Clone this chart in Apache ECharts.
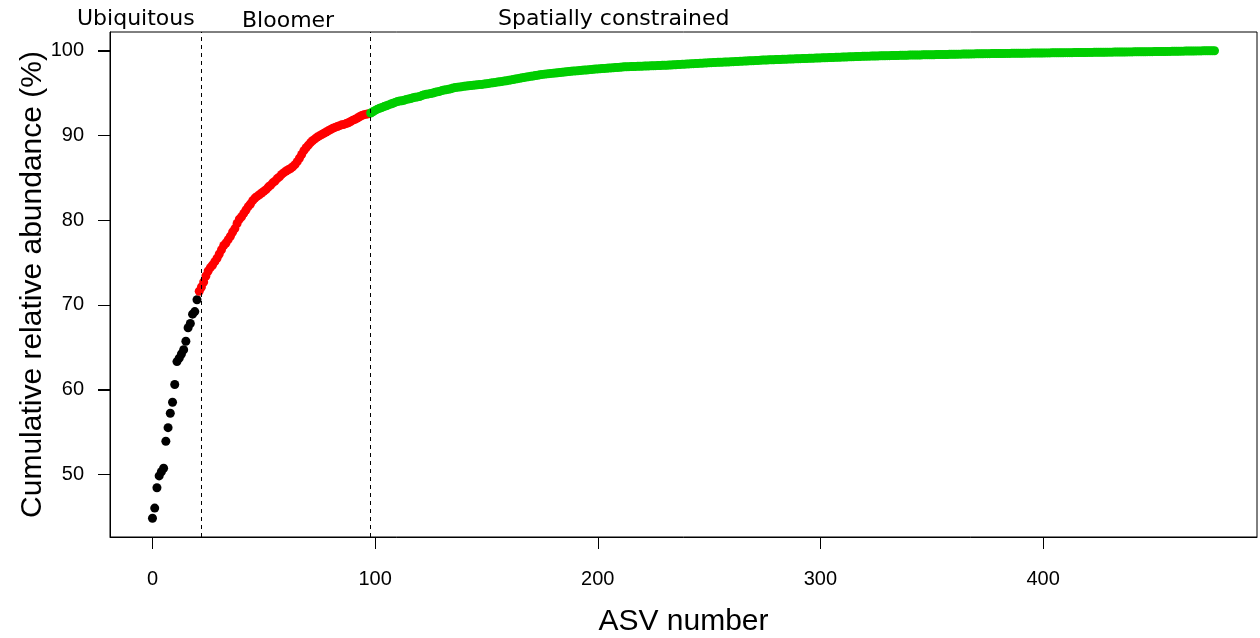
<!DOCTYPE html>
<html>
<head>
<meta charset="utf-8">
<script src="https://cdn.jsdelivr.net/npm/echarts@6/dist/echarts.min.js"></script>
<style>
  html, body { margin: 0; padding: 0; background: #fff; }
  #chart { width: 1260px; height: 638px; }
</style>
</head>
<body>
<div id="chart"></div>
<script>
// cumulative relative abundance (%) per ASV rank, split by group
var ubiquitousStart = 0;
var ubiquitous = [44.8, 46.0, 48.4, 49.8, 50.3, 50.7, 53.9, 55.5, 57.2, 58.5,
  60.6, 63.3, 63.7, 64.2, 64.7, 65.7, 67.3, 67.8, 68.9, 69.2, 70.6];

var bloomerStart = 21;
var bloomer = [71.6, 72.1, 72.7, 73.4, 74.0, 74.4, 74.7, 75.1, 75.5, 76.0,
  76.5, 77.0, 77.3, 77.7, 78.1, 78.6, 79.0, 79.6, 80.1, 80.4,
  80.8, 81.2, 81.6, 81.9, 82.3, 82.6, 82.8, 83.0, 83.2, 83.4,
  83.6, 83.9, 84.1, 84.4, 84.6, 84.9, 85.1, 85.4, 85.6, 85.8,
  85.95, 86.1, 86.3, 86.55, 86.9, 87.3, 87.75, 88.2, 88.55, 88.85,
  89.15, 89.4, 89.6, 89.8, 89.95, 90.1, 90.25, 90.4, 90.55, 90.7,
  90.85, 90.95, 91.05, 91.15, 91.25, 91.3, 91.4, 91.5, 91.65, 91.8,
  91.9, 92.05, 92.2, 92.35, 92.45, 92.5, 92.55];

var constrainedStart = 98;
var constrained = [92.65, 92.8, 92.95, 93.1, 93.2, 93.3, 93.4, 93.5, 93.6, 93.7,
  93.8, 93.9, 94.0, 94.05, 94.1, 94.15, 94.25, 94.3, 94.35, 94.45,
  94.5, 94.55, 94.6, 94.7, 94.8, 94.85, 94.9, 94.95, 95.0, 95.1,
  95.15, 95.2, 95.3, 95.35, 95.4, 95.45, 95.5, 95.6, 95.65, 95.7,
  95.72, 95.76, 95.8, 95.83, 95.86, 95.89, 95.92, 95.95, 95.97, 96.0,
  96.02, 96.06, 96.1, 96.14, 96.18, 96.22, 96.26, 96.3, 96.34, 96.38,
  96.42, 96.46, 96.5, 96.55, 96.6, 96.65, 96.7, 96.75, 96.8, 96.85,
  96.9, 96.94, 96.98, 97.02, 97.06, 97.1, 97.15, 97.2, 97.23, 97.26,
  97.29, 97.32, 97.35, 97.37, 97.4, 97.43, 97.46, 97.49, 97.52, 97.54,
  97.57, 97.6, 97.62, 97.64, 97.66, 97.69, 97.71, 97.73, 97.76, 97.78,
  97.8, 97.83, 97.85, 97.87, 97.89, 97.91, 97.93, 97.95, 97.97, 97.99,
  98.01, 98.03, 98.05, 98.07, 98.1, 98.11, 98.12, 98.13, 98.14, 98.15,
  98.16, 98.17, 98.18, 98.19, 98.2, 98.21, 98.22, 98.23, 98.24, 98.25,
  98.26, 98.27, 98.28, 98.29, 98.3, 98.31, 98.33, 98.35, 98.37, 98.38,
  98.4, 98.41, 98.43, 98.44, 98.46, 98.47, 98.48, 98.5, 98.51, 98.53,
  98.54, 98.56, 98.57, 98.59, 98.6, 98.62, 98.63, 98.64, 98.65, 98.66,
  98.67, 98.68, 98.7, 98.71, 98.73, 98.74, 98.75, 98.77, 98.78, 98.79,
  98.81, 98.82, 98.83, 98.85, 98.86, 98.87, 98.89, 98.9, 98.91, 98.92,
  98.93, 98.94, 98.95, 98.96, 98.97, 98.98, 98.99, 99.0, 99.01, 99.02,
  99.03, 99.04, 99.05, 99.06, 99.07, 99.08, 99.09, 99.1, 99.11, 99.12,
  99.13, 99.14, 99.15, 99.16, 99.17, 99.18, 99.19, 99.2, 99.21, 99.22,
  99.23, 99.24, 99.25, 99.26, 99.27, 99.28, 99.29, 99.3, 99.31, 99.32,
  99.33, 99.34, 99.35, 99.36, 99.36, 99.37, 99.38, 99.38, 99.39, 99.4,
  99.4, 99.41, 99.42, 99.42, 99.43, 99.44, 99.44, 99.45, 99.46, 99.46,
  99.47, 99.47, 99.48, 99.48, 99.49, 99.49, 99.5, 99.5, 99.51, 99.51,
  99.52, 99.52, 99.53, 99.53, 99.54, 99.54, 99.55, 99.55, 99.56, 99.56,
  99.57, 99.57, 99.58, 99.58, 99.59, 99.59, 99.6, 99.6, 99.61, 99.61,
  99.62, 99.62, 99.63, 99.63, 99.64, 99.64, 99.65, 99.65, 99.65, 99.66,
  99.66, 99.66, 99.67, 99.67, 99.67, 99.68, 99.68, 99.68, 99.69, 99.69,
  99.69, 99.7, 99.7, 99.7, 99.71, 99.71, 99.71, 99.72, 99.72, 99.72,
  99.73, 99.73, 99.73, 99.74, 99.74, 99.74, 99.75, 99.75, 99.75, 99.76,
  99.76, 99.76, 99.77, 99.77, 99.77, 99.77, 99.78, 99.78, 99.78, 99.79,
  99.79, 99.79, 99.8, 99.8, 99.8, 99.81, 99.81, 99.81, 99.82, 99.82,
  99.82, 99.83, 99.83, 99.83, 99.84, 99.84, 99.84, 99.85, 99.85, 99.85,
  99.86, 99.86, 99.86, 99.87, 99.87, 99.87, 99.88, 99.88, 99.88, 99.89,
  99.89, 99.89, 99.9, 99.9, 99.9, 99.91, 99.91, 99.91, 99.92, 99.92,
  99.93, 99.93, 99.94, 99.94, 99.95, 99.95, 99.96, 99.96, 99.97, 99.97,
  99.97, 99.98, 99.98, 99.98, 99.99, 99.99, 99.99, 100, 100, 100];

// group boundaries (dashed lines) and tick labels
var boundaries = [21.7, 97.6];
var xTicks = [0, 100, 200, 300, 400];
var yTicks = [50, 60, 70, 80, 90, 100];

var xMin = -19.08, xMax = 496.08;
var yMin = 42.59, yMax = 102.21;

function toPoints(start, values) {
  return values.map(function (v, i) { return [start + i, v]; });
}

var myChart = echarts.init(document.getElementById('chart'));

var tickFont = "'Liberation Sans', Arial, sans-serif";
var dotSize = 9;
var tickLen = 12;

var titles = [
  { type: 'text', id: 't1', left: 77, top: 8, style: { text: 'Ubiquitous', font: '22px "DejaVu Sans"', fill: '#000' } },
  { type: 'text', id: 't2', left: 242, top: 10, style: { text: 'Bloomer', font: '22px "DejaVu Sans"', fill: '#000' } },
  { type: 'text', id: 't3', left: 498, top: 8, style: { text: 'Spatially constrained', font: '22px "DejaVu Sans"', fill: '#000' } }
];

var option = {
  animation: false,
  grid: {
    left: 110,
    right: 3,
    top: 32,
    bottom: 101,
    outerBoundsMode: 'none',
    show: true,
    borderColor: '#000',
    borderWidth: 1
  },
  xAxis: {
    type: 'value',
    min: xMin,
    max: xMax,
    name: 'ASV number',
    nameLocation: 'middle',
    nameGap: 70,
    nameMoveOverlap: false,
    nameTextStyle: { fontFamily: tickFont, fontSize: 30, color: '#000' },
    axisLine: { show: true, onZero: false, lineStyle: { color: '#000', width: 1 } },
    axisTick: { show: true, inside: false, length: tickLen, customValues: xTicks, lineStyle: { color: '#000', width: 1 } },
    axisLabel: { customValues: xTicks, margin: 32, fontFamily: tickFont, fontSize: 20, color: '#000' },
    splitLine: { show: false }
  },
  yAxis: {
    type: 'value',
    min: yMin,
    max: yMax,
    name: 'Cumulative relative abundance (%)',
    nameLocation: 'middle',
    nameGap: 62,
    nameMoveOverlap: false,
    nameTextStyle: { fontFamily: tickFont, fontSize: 30, color: '#000' },
    axisLine: { show: true, onZero: false, lineStyle: { color: '#000', width: 1 } },
    axisTick: { show: true, inside: false, length: tickLen, customValues: yTicks, lineStyle: { color: '#000', width: 1 } },
    axisLabel: { customValues: yTicks, margin: 26, fontFamily: tickFont, fontSize: 20, color: '#000' },
    splitLine: { show: false }
  },
  graphic: { elements: titles },
  series: [
    {
      type: 'scatter',
      data: [],
      z: 1,
      markLine: {
        silent: true,
        symbol: ['none', 'none'],
        label: { show: false },
        lineStyle: { color: '#000', width: 1, type: [4, 4] },
        data: boundaries.map(function (b) { return { xAxis: b }; })
      }
    },
    {
      name: 'Ubiquitous',
      type: 'scatter',
      z: 3,
      symbolSize: dotSize,
      itemStyle: { color: '#000000', opacity: 1 },
      data: toPoints(ubiquitousStart, ubiquitous)
    },
    {
      name: 'Bloomer',
      type: 'scatter',
      z: 3,
      symbolSize: dotSize,
      itemStyle: { color: '#ff0000', opacity: 1 },
      data: toPoints(bloomerStart, bloomer)
    },
    {
      name: 'Spatially constrained',
      type: 'scatter',
      z: 3,
      symbolSize: dotSize,
      itemStyle: { color: '#00cd00', opacity: 1 },
      data: toPoints(constrainedStart, constrained)
    }
  ]
};

myChart.setOption(option);

// outward tick marks as a backup, placed through the chart's own scales
function drawTicks() {
  var lines = [];
  xTicks.forEach(function (v, i) {
    var p = myChart.convertToPixel({ seriesIndex: 1 }, [v, yMin]);
    if (!p || isNaN(p[0])) { return; }
    var x = Math.round(p[0]) + 0.5;
    var y = Math.round(p[1]);
    lines.push({ type: 'line', id: 'xt' + i, z: 100, silent: true,
      shape: { x1: x, y1: y, x2: x, y2: y + tickLen }, style: { stroke: '#000', lineWidth: 1 } });
  });
  yTicks.forEach(function (v, i) {
    var p = myChart.convertToPixel({ seriesIndex: 1 }, [xMin, v]);
    if (!p || isNaN(p[0])) { return; }
    var x = Math.round(p[0]);
    var y = Math.round(p[1]) + 0.5;
    lines.push({ type: 'line', id: 'yt' + i, z: 100, silent: true,
      shape: { x1: x - tickLen, y1: y, x2: x, y2: y }, style: { stroke: '#000', lineWidth: 1 } });
  });
  myChart.setOption({ graphic: { elements: titles.concat(lines) } });
}
drawTicks();

window.addEventListener('resize', function () {
  myChart.resize();
  drawTicks();
});
</script>
</body>
</html>
